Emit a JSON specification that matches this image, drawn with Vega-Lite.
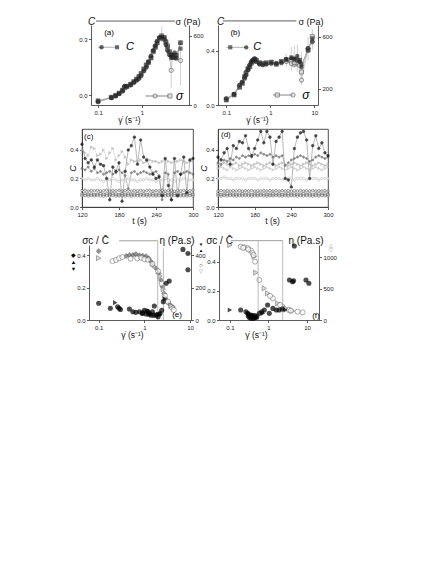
{
"$schema":"https://vega.github.io/schema/vega-lite/v6.json",
"background":"white",
"padding":{"left":67,"top":16,"right":5,"bottom":5},
"columns":2,
"spacing":{"row":24,"column":25},
"bounds":"flush",
"align":"each",
"config":{"font":"Liberation Sans","view":{"stroke":null},"scale":{"zero":false},"title":{"fontWeight":"normal","fontSize":8,"color":"#111","baseline":"bottom"},"axis":{"grid":false,"labelFontSize":6,"labelColor":"#222","labelPadding":1.5,"domainColor":"#333","domainWidth":0.8,"tickColor":"#333","tickWidth":0.8,"tickSize":2.5,"titleFontSize":8.5,"titleFontWeight":"normal","titleColor":"#111","labelFlush":false,"labelOverlap":false}},
"datasets":{
"a":[
{"g":0.1,"c1":-0.035,"c2":-0.03,"s1":27,"s2":35},
{"g":0.2,"c1":-0.013,"c2":-0.011,"s1":63,"s2":66},
{"g":0.25,"c1":-0.004,"c2":-0.001,"s1":78,"s2":82},
{"g":0.3,"c1":0.008,"c2":0.011,"s1":98,"s2":102},
{"g":0.36,"c1":0.022,"c2":0.028,"s1":120,"s2":128},
{"g":0.4,"c1":0.05,"c2":0.042,"s1":160,"s2":150},
{"g":0.45,"c1":0.046,"c2":0.049,"s1":156,"s2":162},
{"g":0.55,"c1":0.055,"c2":0.06,"s1":172,"s2":180},
{"g":0.65,"c1":0.068,"c2":0.073,"s1":195,"s2":202},
{"g":0.75,"c1":0.08,"c2":0.086,"s1":214,"s2":224},
{"g":0.85,"c1":0.09,"c2":0.1,"s1":230,"s2":246},
{"g":0.95,"c1":0.105,"c2":0.116,"s1":255,"s2":272},
{"g":1.1,"c1":0.13,"c2":0.14,"s1":295,"s2":312},
{"g":1.25,"c1":0.15,"c2":0.162,"s1":328,"s2":346},
{"g":1.4,"c1":0.18,"c2":0.175,"s1":375,"s2":368},
{"g":1.6,"c1":0.21,"c2":0.2,"s1":422,"s2":408},
{"g":1.8,"c1":0.24,"c2":0.235,"s1":470,"s2":462},
{"g":2.0,"c1":0.265,"c2":0.258,"s1":512,"s2":500},
{"g":2.2,"c1":0.29,"c2":0.28,"s1":552,"s2":538},
{"g":2.5,"c1":0.31,"c2":0.305,"s1":585,"s2":575},
{"g":2.8,"c1":0.315,"c2":0.31,"s1":592,"s2":600,"lo":545,"hi":680},
{"g":3.2,"c1":0.3,"c2":0.31,"s1":568,"s2":582},
{"g":3.5,"c1":0.27,"c2":0.285,"s1":525,"s2":548,"lo":470,"hi":600},
{"g":3.8,"c1":0.24,"c2":0.26,"s1":475,"s2":512},
{"g":4.2,"c1":0.215,"c2":0.232,"s1":438,"s2":462,"lo":380,"hi":520},
{"g":4.6,"c1":0.2,"c2":0.215,"s1":300,"s2":436,"lo":150,"hi":410},
{"g":5.0,"c1":0.215,"c2":0.205,"s1":430,"s2":415},
{"g":5.5,"c1":0.225,"c2":0.2,"s1":452,"s2":420},
{"g":6.0,"c1":0.2,"c2":0.215,"s1":402,"s2":430},
{"g":7.5,"c1":0.28,"c2":0.25,"s1":385,"s2":540,"lo":170,"hi":500}
],
"b":[
{"g":0.1,"c1":0.049,"c2":0.036,"s1":125,"s2":118},
{"g":0.15,"c1":0.081,"c2":0.075,"s1":160,"s2":155},
{"g":0.2,"c1":0.147,"c2":0.13,"s1":228,"s2":215},
{"g":0.23,"c1":0.17,"c2":0.16,"s1":252,"s2":244},
{"g":0.26,"c1":0.196,"c2":0.21,"s1":282,"s2":292},
{"g":0.28,"c1":0.22,"c2":0.24,"s1":305,"s2":320},
{"g":0.31,"c1":0.257,"c2":0.27,"s1":345,"s2":352},
{"g":0.34,"c1":0.294,"c2":0.28,"s1":382,"s2":370},
{"g":0.37,"c1":0.318,"c2":0.31,"s1":405,"s2":398},
{"g":0.4,"c1":0.33,"c2":0.325,"s1":420,"s2":414},
{"g":0.44,"c1":0.343,"c2":0.335,"s1":430,"s2":424},
{"g":0.48,"c1":0.318,"c2":0.33,"s1":410,"s2":420},
{"g":0.57,"c1":0.3,"c2":0.31,"s1":390,"s2":400},
{"g":0.68,"c1":0.294,"c2":0.305,"s1":385,"s2":396},
{"g":0.81,"c1":0.3,"c2":0.31,"s1":390,"s2":400},
{"g":1.05,"c1":0.306,"c2":0.315,"s1":395,"s2":405},
{"g":1.37,"c1":0.306,"c2":0.3,"s1":396,"s2":390},
{"g":1.78,"c1":0.311,"c2":0.32,"s1":400,"s2":410},
{"g":2.3,"c1":0.338,"c2":0.33,"s1":410,"s2":425,"lo":370,"hi":470},
{"g":3.0,"c1":0.343,"c2":0.35,"s1":395,"s2":415,"lo":340,"hi":520},
{"g":3.5,"c1":0.343,"c2":0.335,"s1":400,"s2":390,"lo":360,"hi":530},
{"g":4.1,"c1":0.36,"c2":0.33,"s1":420,"s2":400,"lo":330,"hi":540},
{"g":4.6,"c1":0.318,"c2":0.33,"s1":380,"s2":420},
{"g":5.1,"c1":0.28,"c2":0.3,"s1":268,"s2":330,"lo":230,"hi":485},
{"g":7.2,"c1":0.417,"c2":0.4,"s1":510,"s2":500,"lo":420,"hi":600},
{"g":9.0,"c1":0.466,"c2":0.49,"s1":560,"s2":600,"lo":500,"hi":660}
],
"c":[
{"t":120,"k":0.44,"g":0.40,"d":0.27,"o":0.20,"c":0.115,"q":0.090,"r":0.078},
{"t":125,"k":0.34,"g":0.38,"d":0.26,"o":0.19,"c":0.118,"q":0.092,"r":0.080},
{"t":130,"k":0.31,"g":0.36,"d":0.28,"o":0.20,"c":0.112,"q":0.088,"r":0.076},
{"t":135,"k":0.33,"g":0.42,"d":0.25,"o":0.19,"c":0.116,"q":0.091,"r":0.079},
{"t":140,"k":0.28,"g":0.41,"d":0.27,"o":0.19,"c":0.114,"q":0.087,"r":0.077},
{"t":145,"k":0.33,"g":0.36,"d":0.24,"o":0.20,"c":0.117,"q":0.090,"r":0.080},
{"t":150,"k":0.30,"g":0.37,"d":0.25,"o":0.19,"c":0.113,"q":0.093,"r":0.078},
{"t":155,"k":0.29,"g":0.40,"d":0.23,"o":0.18,"c":0.115,"q":0.089,"r":0.075},
{"t":160,"k":0.20,"g":0.34,"d":0.24,"o":0.19,"c":0.118,"q":0.091,"r":0.079},
{"t":165,"k":0.05,"g":0.38,"d":0.25,"o":0.19,"c":0.112,"q":0.088,"r":0.077},
{"t":170,"k":0.28,"g":0.41,"d":0.23,"o":0.20,"c":0.116,"q":0.092,"r":0.080},
{"t":175,"k":0.25,"g":0.33,"d":0.24,"o":0.19,"c":0.114,"q":0.090,"r":0.076},
{"t":180,"k":0.31,"g":0.36,"d":0.26,"o":0.18,"c":0.117,"q":0.087,"r":0.078},
{"t":185,"k":0.04,"g":0.39,"d":0.24,"o":0.19,"c":0.113,"q":0.091,"r":0.079},
{"t":190,"k":0.25,"g":0.35,"d":0.22,"o":0.19,"c":0.115,"q":0.089,"r":0.077},
{"t":195,"k":0.40,"g":0.30,"d":0.13,"o":0.20,"c":0.118,"q":0.092,"r":0.080},
{"t":200,"k":0.43,"g":0.33,"d":0.24,"o":0.19,"c":0.112,"q":0.088,"r":0.076},
{"t":205,"k":0.49,"g":0.32,"d":0.25,"o":0.19,"c":0.116,"q":0.090,"r":0.078},
{"t":210,"k":0.30,"g":0.32,"d":0.23,"o":0.18,"c":0.114,"q":0.093,"r":0.079},
{"t":215,"k":0.47,"g":0.33,"d":0.24,"o":0.19,"c":0.117,"q":0.089,"r":0.077},
{"t":220,"k":0.35,"g":0.31,"d":0.25,"o":0.19,"c":0.113,"q":0.091,"r":0.080},
{"t":225,"k":0.33,"g":0.32,"d":0.24,"o":0.20,"c":0.115,"q":0.087,"r":0.076},
{"t":230,"k":0.28,"g":0.33,"d":0.23,"o":0.19,"c":0.118,"q":0.090,"r":0.078},
{"t":235,"k":0.23,"g":0.32,"d":0.24,"o":0.19,"c":0.112,"q":0.092,"r":0.079},
{"t":240,"k":0.20,"g":0.32,"d":0.25,"o":0.18,"c":0.116,"q":0.088,"r":0.077},
{"t":245,"k":0.21,"g":0.31,"d":0.22,"o":0.19,"c":0.114,"q":0.091,"r":0.080},
{"t":250,"k":0.08,"g":0.32,"d":0.05,"o":0.19,"c":0.117,"q":0.089,"r":0.076},
{"t":255,"k":0.34,"g":0.33,"d":0.24,"o":0.20,"c":0.113,"q":0.092,"r":0.078},
{"t":260,"k":0.15,"g":0.32,"d":0.23,"o":0.19,"c":0.115,"q":0.088,"r":0.079},
{"t":265,"k":0.05,"g":0.31,"d":0.05,"o":0.19,"c":0.118,"q":0.090,"r":0.077},
{"t":270,"k":0.34,"g":0.32,"d":0.24,"o":0.18,"c":0.112,"q":0.093,"r":0.080},
{"t":275,"k":0.08,"g":0.32,"d":0.25,"o":0.19,"c":0.116,"q":0.089,"r":0.076},
{"t":280,"k":0.23,"g":0.33,"d":0.23,"o":0.19,"c":0.114,"q":0.091,"r":0.078},
{"t":285,"k":0.35,"g":0.32,"d":0.24,"o":0.20,"c":0.117,"q":0.087,"r":0.079},
{"t":290,"k":0.10,"g":0.31,"d":0.25,"o":0.19,"c":0.113,"q":0.090,"r":0.077},
{"t":295,"k":0.33,"g":0.32,"d":0.24,"o":0.19,"c":0.115,"q":0.092,"r":0.080},
{"t":300,"k":0.34,"g":0.32,"d":0.23,"o":0.19,"c":0.118,"q":0.088,"r":0.076}
],
"d":[
{"t":120,"k":0.35,"g":0.30,"h":0.27,"d":0.31,"o":0.20,"c":0.112,"q":0.091,"r":0.078},
{"t":125,"k":0.33,"g":0.29,"h":0.28,"d":0.30,"o":0.20,"c":0.115,"q":0.088,"r":0.076},
{"t":130,"k":0.38,"g":0.31,"h":0.27,"d":0.33,"o":0.21,"c":0.113,"q":0.090,"r":0.079},
{"t":135,"k":0.41,"g":0.30,"h":0.26,"d":0.32,"o":0.20,"c":0.116,"q":0.092,"r":0.077},
{"t":140,"k":0.30,"g":0.29,"h":0.28,"d":0.34,"o":0.20,"c":0.112,"q":0.089,"r":0.080},
{"t":145,"k":0.43,"g":0.30,"h":0.27,"d":0.33,"o":0.19,"c":0.115,"q":0.091,"r":0.078},
{"t":150,"k":0.41,"g":0.31,"h":0.26,"d":0.35,"o":0.20,"c":0.113,"q":0.088,"r":0.076},
{"t":155,"k":0.46,"g":0.29,"h":0.27,"d":0.34,"o":0.20,"c":0.116,"q":0.090,"r":0.079},
{"t":160,"k":0.45,"g":0.30,"h":0.28,"d":0.36,"o":0.20,"c":0.112,"q":0.092,"r":0.077},
{"t":165,"k":0.50,"g":0.31,"h":0.27,"d":0.35,"o":0.19,"c":0.115,"q":0.089,"r":0.080},
{"t":170,"k":0.41,"g":0.30,"h":0.26,"d":0.36,"o":0.20,"c":0.113,"q":0.091,"r":0.078},
{"t":175,"k":0.36,"g":0.29,"h":0.27,"d":0.35,"o":0.20,"c":0.116,"q":0.088,"r":0.076},
{"t":180,"k":0.41,"g":0.30,"h":0.28,"d":0.37,"o":0.20,"c":0.112,"q":0.090,"r":0.079},
{"t":185,"k":0.47,"g":0.31,"h":0.27,"d":0.36,"o":0.19,"c":0.115,"q":0.092,"r":0.077},
{"t":190,"k":0.53,"g":0.30,"h":0.26,"d":0.38,"o":0.20,"c":0.113,"q":0.089,"r":0.080},
{"t":195,"k":0.45,"g":0.29,"h":0.27,"d":0.37,"o":0.20,"c":0.116,"q":0.091,"r":0.078},
{"t":200,"k":0.53,"g":0.30,"h":0.28,"d":0.36,"o":0.20,"c":0.112,"q":0.088,"r":0.076},
{"t":205,"k":0.49,"g":0.31,"h":0.27,"d":0.37,"o":0.19,"c":0.115,"q":0.090,"r":0.079},
{"t":210,"k":0.30,"g":0.30,"h":0.26,"d":0.35,"o":0.20,"c":0.113,"q":0.092,"r":0.077},
{"t":215,"k":0.46,"g":0.29,"h":0.27,"d":0.36,"o":0.20,"c":0.116,"q":0.089,"r":0.080},
{"t":220,"k":0.49,"g":0.30,"h":0.28,"d":0.35,"o":0.20,"c":0.112,"q":0.091,"r":0.078},
{"t":225,"k":0.53,"g":0.31,"h":0.27,"d":0.36,"o":0.19,"c":0.115,"q":0.088,"r":0.076},
{"t":230,"k":0.20,"g":0.30,"h":0.26,"d":0.29,"o":0.20,"c":0.113,"q":0.090,"r":0.079},
{"t":235,"k":0.19,"g":0.29,"h":0.27,"d":0.31,"o":0.20,"c":0.116,"q":0.092,"r":0.077},
{"t":240,"k":0.14,"g":0.30,"h":0.28,"d":0.33,"o":0.20,"c":0.112,"q":0.089,"r":0.080},
{"t":245,"k":0.41,"g":0.31,"h":0.27,"d":0.34,"o":0.19,"c":0.115,"q":0.091,"r":0.078},
{"t":250,"k":0.49,"g":0.30,"h":0.26,"d":0.35,"o":0.20,"c":0.113,"q":0.088,"r":0.076},
{"t":255,"k":0.52,"g":0.29,"h":0.27,"d":0.36,"o":0.20,"c":0.116,"q":0.090,"r":0.079},
{"t":260,"k":0.53,"g":0.30,"h":0.28,"d":0.35,"o":0.20,"c":0.112,"q":0.092,"r":0.077},
{"t":265,"k":0.47,"g":0.31,"h":0.27,"d":0.34,"o":0.19,"c":0.115,"q":0.089,"r":0.080},
{"t":270,"k":0.20,"g":0.30,"h":0.26,"d":0.32,"o":0.20,"c":0.113,"q":0.091,"r":0.078},
{"t":275,"k":0.43,"g":0.29,"h":0.27,"d":0.33,"o":0.20,"c":0.116,"q":0.088,"r":0.076},
{"t":280,"k":0.50,"g":0.30,"h":0.28,"d":0.35,"o":0.20,"c":0.112,"q":0.090,"r":0.079},
{"t":285,"k":0.41,"g":0.31,"h":0.27,"d":0.36,"o":0.19,"c":0.115,"q":0.092,"r":0.077},
{"t":290,"k":0.45,"g":0.30,"h":0.26,"d":0.35,"o":0.20,"c":0.113,"q":0.089,"r":0.080},
{"t":295,"k":0.38,"g":0.29,"h":0.27,"d":0.34,"o":0.20,"c":0.116,"q":0.091,"r":0.078},
{"t":300,"k":0.36,"g":0.30,"h":0.28,"d":0.35,"o":0.20,"c":0.112,"q":0.088,"r":0.076}
],
"eL":[
{"g":0.1,"v":0.103,"m":"o"},{"g":0.47,"v":0.068,"m":"o"},{"g":0.56,"v":0.051,"m":"o"},{"g":0.65,"v":0.047,"m":"o"},{"g":0.78,"v":0.051,"m":"o"},{"g":0.92,"v":0.045,"m":"o"},{"g":1.09,"v":0.037,"m":"o"},{"g":1.2,"v":0.05,"m":"o"},{"g":1.3,"v":0.04,"m":"o"},{"g":1.4,"v":0.03,"m":"o"},{"g":1.65,"v":0.086,"m":"o"},{"g":1.8,"v":0.03,"m":"o"},{"g":2.0,"v":0.02,"m":"o"},{"g":2.1,"v":0.035,"m":"o"},{"g":3.0,"v":0.226,"m":"o"},
{"g":0.18,"v":0.072,"m":"u"},{"g":0.26,"v":0.082,"m":"u"},{"g":0.3,"v":0.065,"m":"u"},{"g":1.0,"v":0.06,"m":"u"},{"g":1.15,"v":0.055,"m":"u"},{"g":1.5,"v":0.05,"m":"u"},{"g":2.2,"v":0.04,"m":"u"},{"g":3.5,"v":0.24,"m":"u"},{"g":9.0,"v":0.31,"m":"u"},
{"g":0.28,"v":0.072,"m":"n"},{"g":0.9,"v":0.04,"m":"n"},{"g":1.25,"v":0.035,"m":"n"},{"g":1.6,"v":0.03,"m":"n"},{"g":2.4,"v":0.06,"m":"n"},{"g":2.6,"v":0.113,"m":"n"},{"g":7.0,"v":0.435,"m":"n"},{"g":9.0,"v":0.41,"m":"n"},
{"g":0.23,"v":0.107,"m":"h"},{"g":2.0,"v":0.035,"m":"h"},{"g":2.8,"v":0.13,"m":"h"}
],
"eR":[
{"g":0.1,"v":424,"m":"d"},{"g":0.4,"v":394,"m":"d"},{"g":0.47,"v":400,"m":"d"},{"g":0.56,"v":400,"m":"d"},{"g":0.65,"v":406,"m":"d"},{"g":0.78,"v":398,"m":"d"},{"g":0.92,"v":396,"m":"d"},{"g":1.09,"v":392,"m":"d"},{"g":1.24,"v":380,"m":"d"},{"g":1.4,"v":360,"m":"d"},{"g":1.52,"v":338,"m":"d"},{"g":1.8,"v":318,"m":"d"},{"g":2.05,"v":287,"m":"d"},{"g":2.3,"v":246,"m":"d"},{"g":2.5,"v":205,"m":"d"},{"g":2.7,"v":164,"m":"d"},{"g":2.9,"v":133,"m":"d"},{"g":3.5,"v":100,"m":"d"},{"g":4.2,"v":80,"m":"d"},
{"g":0.2,"v":363,"m":"n"},{"g":0.24,"v":370,"m":"n"},{"g":0.28,"v":380,"m":"n"},{"g":0.33,"v":388,"m":"n"},{"g":0.5,"v":378,"m":"n"},{"g":0.7,"v":380,"m":"n"},{"g":0.85,"v":384,"m":"n"},{"g":1.0,"v":375,"m":"n"},{"g":1.2,"v":372,"m":"n"},{"g":1.5,"v":345,"m":"n"},{"g":2.0,"v":300,"m":"n"},{"g":2.4,"v":225,"m":"n"},{"g":2.8,"v":150,"m":"n"},{"g":3.3,"v":112,"m":"n"},{"g":4.0,"v":78,"m":"n"},{"g":4.4,"v":62,"m":"n"},
{"g":0.1,"v":381,"m":"h"},{"g":2.2,"v":270,"m":"h"},{"g":2.6,"v":190,"m":"h"},{"g":3.8,"v":88,"m":"h"}
],
"fL":[
{"g":0.19,"v":0.069,"m":"n"},{"g":0.26,"v":0.057,"m":"n"},{"g":0.29,"v":0.046,"m":"n"},{"g":0.3,"v":0.025,"m":"n"},{"g":0.35,"v":0.034,"m":"n"},{"g":0.36,"v":0.012,"m":"n"},{"g":0.39,"v":0.028,"m":"n"},{"g":0.41,"v":0.01,"m":"n"},{"g":0.43,"v":0.018,"m":"n"},{"g":0.58,"v":0.046,"m":"n"},{"g":0.78,"v":0.069,"m":"n"},{"g":1.05,"v":0.046,"m":"n"},{"g":1.6,"v":0.069,"m":"n"},{"g":1.9,"v":0.069,"m":"n"},{"g":3.5,"v":0.276,"m":"n"},{"g":4.2,"v":0.264,"m":"n"},{"g":4.7,"v":0.51,"m":"n"},{"g":9.4,"v":0.276,"m":"n"},
{"g":0.3,"v":0.04,"m":"u"},{"g":0.33,"v":0.015,"m":"u"},{"g":0.38,"v":0.03,"m":"u"},{"g":0.45,"v":0.03,"m":"u"},{"g":0.47,"v":0.018,"m":"u"},{"g":0.5,"v":0.023,"m":"u"},{"g":0.67,"v":0.057,"m":"u"},{"g":0.95,"v":0.103,"m":"u"},{"g":1.3,"v":0.08,"m":"u"},{"g":2.3,"v":0.076,"m":"u"},{"g":4.5,"v":0.27,"m":"u"},{"g":11.2,"v":0.253,"m":"u"},
{"g":0.1,"v":0.069,"m":"h"},{"g":0.33,"v":0.02,"m":"h"},{"g":0.4,"v":0.02,"m":"h"},{"g":0.72,"v":0.046,"m":"h"},{"g":2.8,"v":0.069,"m":"h"}
],
"fR":[
{"g":0.19,"v":1170,"m":"u"},{"g":0.235,"v":1160,"m":"u"},{"g":0.29,"v":1144,"m":"u"},{"g":0.35,"v":1107,"m":"u"},{"g":0.39,"v":1064,"m":"u"},{"g":0.58,"v":638,"m":"u"},{"g":1.3,"v":346,"m":"u"},{"g":2.3,"v":213,"m":"u"},{"g":3.4,"v":160,"m":"u"},{"g":5.7,"v":133,"m":"u"},
{"g":0.1,"v":1197,"m":"h"},{"g":0.43,"v":1011,"m":"h"},{"g":0.47,"v":755,"m":"h"},{"g":0.78,"v":505,"m":"h"},{"g":0.95,"v":426,"m":"h"},{"g":1.73,"v":266,"m":"h"},{"g":2.8,"v":186,"m":"h"},{"g":4.2,"v":144,"m":"h"},
{"g":0.22,"v":1150,"m":"n"},{"g":0.3,"v":1125,"m":"n"},{"g":0.41,"v":1035,"m":"n"},{"g":0.45,"v":931,"m":"n"},{"g":1.1,"v":385,"m":"n"},{"g":2.0,"v":240,"m":"n"},{"g":3.8,"v":150,"m":"n"},{"g":7.7,"v":122,"m":"n"}
]
},
"concat":[
{
"width":107,"height":80,
"layer":[
{"layer":[
{"data":{"name":"a"},"encoding":{"x":{"field":"g","type":"quantitative","scale":{"type":"log","domain":[0.069,11.7],"range":[9,107],"nice":false},"axis":{"values":[0.1,1],"format":"~g","title":"γ̇ (s⁻¹)","titleX":47,"titleY":14,"titleBaseline":"middle","titleAlign":"center"}}},"layer":[
{"transform":[{"filter":"isValid(datum.lo)"}],"mark":{"type":"rule","color":"#bbb","strokeWidth":0.7},"encoding":{"y":{"field":"lo","type":"quantitative","scale":{"domain":[0,693],"nice":false}},"y2":{"field":"hi"}}},
{"mark":{"type":"line","color":"#bbb","strokeWidth":0.7},"encoding":{"y":{"field":"s1","type":"quantitative","scale":{"domain":[0,693],"nice":false}}}},
{"mark":{"type":"line","color":"#bbb","strokeWidth":0.7},"encoding":{"y":{"field":"s2","type":"quantitative","scale":{"domain":[0,693],"nice":false}}}},
{"mark":{"type":"point","shape":"square","filled":true,"fill":"#ddd","stroke":"#444","strokeWidth":0.8,"size":17},"encoding":{"y":{"field":"s2","type":"quantitative","scale":{"domain":[0,693],"nice":false}}}},
{"mark":{"type":"point","shape":"circle","filled":true,"fill":"#ddd","stroke":"#444","strokeWidth":0.8,"size":18},"encoding":{"y":{"field":"s1","type":"quantitative","scale":{"domain":[0,693],"nice":false},"axis":{"orient":"right","values":[0,200,400,600],"title":"σ (Pa)","titleAngle":0,"titleX":-14,"titleY":-4,"titleAlign":"left","titleBaseline":"middle","titleFontSize":9}}}}
]},
{"data":{"values":[{}]},"mark":{"type":"rule","color":"#666","strokeWidth":0.8},"encoding":{"x":{"datum":1.2},"x2":{"datum":4.3},"y":{"datum":78}}},
{"data":{"values":[{}]},"mark":{"type":"point","shape":"circle","filled":true,"fill":"#ddd","stroke":"#444","strokeWidth":0.8,"size":18},"encoding":{"x":{"datum":1.98},"y":{"datum":78}}},
{"data":{"values":[{}]},"mark":{"type":"point","shape":"square","filled":true,"fill":"#ddd","stroke":"#444","strokeWidth":0.8,"size":17},"encoding":{"x":{"datum":4.3},"y":{"datum":78}}},
{"data":{"values":[{}]},"mark":{"type":"text","text":"σ","align":"left","baseline":"middle","fontSize":12,"fontStyle":"italic"},"encoding":{"x":{"datum":5.9},"y":{"datum":78}}}
]},
{"layer":[
{"data":{"name":"a"},"encoding":{"x":{"field":"g","type":"quantitative","scale":{"type":"log","domain":[0.069,11.7],"range":[9,107],"nice":false}}},"layer":[
{"mark":{"type":"line","color":"#999","strokeWidth":0.7},"encoding":{"y":{"field":"c1","type":"quantitative","scale":{"domain":[-0.052,0.376],"nice":false}}}},
{"mark":{"type":"line","color":"#999","strokeWidth":0.7},"encoding":{"y":{"field":"c2","type":"quantitative","scale":{"domain":[-0.052,0.376],"nice":false}}}},
{"mark":{"type":"point","shape":"square","filled":true,"color":"#333","size":17},"encoding":{"y":{"field":"c2","type":"quantitative","scale":{"domain":[-0.052,0.376],"nice":false}}}},
{"mark":{"type":"point","shape":"circle","filled":true,"color":"#222","size":19},"encoding":{"y":{"field":"c1","type":"quantitative","scale":{"domain":[-0.052,0.376],"nice":false},"axis":{"orient":"left","offset":-9,"values":[0,0.1,0.2,0.3],"format":".1f","title":"C","titleAngle":0,"titleX":0,"titleY":-4,"titleAlign":"center","titleBaseline":"middle","titleFontSize":10,"titleFontStyle":"italic"}}}}
]},
{"data":{"values":[{}]},"mark":{"type":"rule","color":"#333","strokeWidth":0.8},"encoding":{"x":{"datum":0.09},"x2":{"datum":5.6},"y":{"datum":0.397}}},
{"data":{"values":[{}]},"mark":{"type":"rule","color":"#999","strokeWidth":0.8},"encoding":{"x":{"datum":0.1},"x2":{"datum":0.3},"y":{"datum":0.257}}},
{"data":{"values":[{}]},"mark":{"type":"point","shape":"circle","filled":true,"color":"#222","size":19},"encoding":{"x":{"datum":0.12},"y":{"datum":0.257}}},
{"data":{"values":[{}]},"mark":{"type":"point","shape":"square","filled":true,"color":"#333","size":17},"encoding":{"x":{"datum":0.27},"y":{"datum":0.257}}},
{"data":{"values":[{}]},"mark":{"type":"text","text":"C","align":"left","baseline":"middle","fontSize":11,"fontStyle":"italic"},"encoding":{"x":{"datum":0.43},"y":{"datum":0.257}}},
{"data":{"values":[{}]},"mark":{"type":"text","text":"(a)","align":"center","baseline":"middle","fontSize":8},"encoding":{"x":{"datum":0.178},"y":{"datum":0.333}}}
]}
],
"resolve":{"scale":{"y":"independent"}}
},
{
"width":100,"height":80,
"layer":[
{"layer":[
{"data":{"name":"b"},"encoding":{"x":{"field":"g","type":"quantitative","scale":{"type":"log","domain":[0.0648,12.1],"nice":false},"axis":{"values":[0.1,1,10],"format":"~g","title":"γ̇ (s⁻¹)","titleX":39,"titleY":14,"titleBaseline":"middle","titleAlign":"center"}}},"layer":[
{"transform":[{"filter":"isValid(datum.lo)"}],"mark":{"type":"rule","color":"#bbb","strokeWidth":0.7},"encoding":{"y":{"field":"lo","type":"quantitative","scale":{"domain":[77.5,689.5],"nice":false}},"y2":{"field":"hi"}}},
{"mark":{"type":"line","color":"#bbb","strokeWidth":0.7},"encoding":{"y":{"field":"s1","type":"quantitative","scale":{"domain":[77.5,689.5],"nice":false}}}},
{"mark":{"type":"line","color":"#bbb","strokeWidth":0.7},"encoding":{"y":{"field":"s2","type":"quantitative","scale":{"domain":[77.5,689.5],"nice":false}}}},
{"mark":{"type":"point","shape":"square","filled":true,"fill":"#ddd","stroke":"#444","strokeWidth":0.8,"size":17},"encoding":{"y":{"field":"s2","type":"quantitative","scale":{"domain":[77.5,689.5],"nice":false}}}},
{"mark":{"type":"point","shape":"circle","filled":true,"fill":"#ddd","stroke":"#444","strokeWidth":0.8,"size":18},"encoding":{"y":{"field":"s1","type":"quantitative","scale":{"domain":[77.5,689.5],"nice":false},"axis":{"orient":"right","values":[200,400,600],"title":"σ (Pa)","titleAngle":0,"titleX":-20,"titleY":-4,"titleAlign":"left","titleBaseline":"middle","titleFontSize":9}}}}
]},
{"data":{"values":[{}]},"mark":{"type":"rule","color":"#666","strokeWidth":0.8},"encoding":{"x":{"datum":1.15},"x2":{"datum":3.28},"y":{"datum":154}}},
{"data":{"values":[{}]},"mark":{"type":"point","shape":"square","filled":true,"fill":"#ddd","stroke":"#444","strokeWidth":0.8,"size":17},"encoding":{"x":{"datum":1.44},"y":{"datum":154}}},
{"data":{"values":[{}]},"mark":{"type":"point","shape":"circle","filled":true,"fill":"#ddd","stroke":"#444","strokeWidth":0.8,"size":18},"encoding":{"x":{"datum":3.28},"y":{"datum":154}}},
{"data":{"values":[{}]},"mark":{"type":"text","text":"σ","align":"left","baseline":"middle","fontSize":12,"fontStyle":"italic"},"encoding":{"x":{"datum":5.3},"y":{"datum":154}}}
]},
{"layer":[
{"data":{"name":"b"},"encoding":{"x":{"field":"g","type":"quantitative","scale":{"type":"log","domain":[0.0648,12.1],"nice":false}}},"layer":[
{"mark":{"type":"line","color":"#999","strokeWidth":0.7},"encoding":{"y":{"field":"c1","type":"quantitative","scale":{"domain":[0,0.588],"nice":false}}}},
{"mark":{"type":"line","color":"#999","strokeWidth":0.7},"encoding":{"y":{"field":"c2","type":"quantitative","scale":{"domain":[0,0.588],"nice":false}}}},
{"mark":{"type":"point","shape":"square","filled":true,"color":"#333","size":17},"encoding":{"y":{"field":"c2","type":"quantitative","scale":{"domain":[0,0.588],"nice":false}}}},
{"mark":{"type":"point","shape":"circle","filled":true,"color":"#222","size":19},"encoding":{"y":{"field":"c1","type":"quantitative","scale":{"domain":[0,0.588],"nice":false},"axis":{"orient":"left","values":[0,0.2,0.4],"format":".1f","title":"C","titleAngle":0,"titleX":2,"titleY":-4,"titleAlign":"center","titleBaseline":"middle","titleFontSize":10,"titleFontStyle":"italic"}}}}
]},
{"data":{"values":[{}]},"mark":{"type":"rule","color":"#333","strokeWidth":0.8},"encoding":{"x":{"datum":0.084},"x2":{"datum":3.9},"y":{"datum":0.618}}},
{"data":{"values":[{}]},"mark":{"type":"rule","color":"#999","strokeWidth":0.8},"encoding":{"x":{"datum":0.1},"x2":{"datum":0.3},"y":{"datum":0.424}}},
{"data":{"values":[{}]},"mark":{"type":"point","shape":"square","filled":true,"color":"#333","size":17},"encoding":{"x":{"datum":0.123},"y":{"datum":0.424}}},
{"data":{"values":[{}]},"mark":{"type":"point","shape":"circle","filled":true,"color":"#222","size":19},"encoding":{"x":{"datum":0.284},"y":{"datum":0.424}}},
{"data":{"values":[{}]},"mark":{"type":"text","text":"C","align":"left","baseline":"middle","fontSize":11,"fontStyle":"italic"},"encoding":{"x":{"datum":0.41},"y":{"datum":0.424}}},
{"data":{"values":[{}]},"mark":{"type":"text","text":"(b)","align":"center","baseline":"middle","fontSize":8},"encoding":{"x":{"datum":0.16},"y":{"datum":0.527}}}
]}
],
"resolve":{"scale":{"y":"independent"}}
},
{
"width":111,"height":78,
"title":{"text":"(c)","anchor":"start","frame":"group","offset":-12,"dx":2,"fontSize":8,"fontWeight":"normal"},
"view":{"stroke":"#222","strokeWidth":0.8},
"data":{"name":"c"},
"transform":[{"fold":["o","c","q","r","g","d","k"],"as":["s","v"]}],
"encoding":{
"x":{"field":"t","type":"quantitative","scale":{"domain":[120,300],"nice":false},"axis":{"values":[120,180,240,300],"labelOverlap":false,"title":"t (s)","titleX":57,"titleY":13,"titleBaseline":"middle","titleAlign":"center"}},
"y":{"field":"v","type":"quantitative","scale":{"domain":[0,0.547],"nice":false},"axis":{"values":[0,0.2,0.4],"format":".1f","title":"C","titleX":-10,"titleY":39,"titleAlign":"center","titleBaseline":"middle","titleFontStyle":"italic","titleFontSize":9}}
},
"layer":[
{"mark":{"type":"line","strokeWidth":0.6},"encoding":{"color":{"field":"s","type":"nominal","scale":{"domain":["o","c","q","r","h","g","d","k"],"range":["#ddd","#bbb","#bbb","#bbb","#ddd","#ccc","#999","#888"]},"legend":null}}},
{"mark":{"type":"point","filled":true,"strokeWidth":0.6},"encoding":{
"shape":{"field":"s","type":"nominal","scale":{"domain":["o","c","q","r","h","g","d","k"],"range":["circle","circle","square","circle","triangle-right","triangle-right","diamond","circle"]},"legend":null},
"fill":{"field":"s","type":"nominal","scale":{"domain":["o","c","q","r","h","g","d","k"],"range":["#fff","#fff","#fff","#fff","#ccc","#bbb","#666","#000"]},"legend":null},
"stroke":{"field":"s","type":"nominal","scale":{"domain":["o","c","q","r","h","g","d","k"],"range":["#aaa","#222","#222","#333","#bbb","#aaa","#555","#000"]},"legend":null},
"size":{"field":"s","type":"nominal","scale":{"domain":["o","c","q","r","h","g","d","k"],"range":[6,7,7,5,10,10,10,13]},"legend":null}}}
]
},
{
"width":110,"height":78,
"title":{"text":"(d)","anchor":"start","frame":"group","offset":-10,"dx":3,"fontSize":8,"fontWeight":"normal"},
"view":{"stroke":"#222","strokeWidth":0.8},
"data":{"name":"d"},
"transform":[{"fold":["o","c","q","r","h","g","d","k"],"as":["s","v"]}],
"encoding":{
"x":{"field":"t","type":"quantitative","scale":{"domain":[120,300],"nice":false},"axis":{"values":[120,180,240,300],"labelOverlap":false,"title":"t (s)","titleX":54,"titleY":13,"titleBaseline":"middle","titleAlign":"center"}},
"y":{"field":"v","type":"quantitative","scale":{"domain":[0,0.547],"nice":false},"axis":{"values":[0,0.2,0.4],"format":".1f","title":"C","titleX":-15,"titleY":39,"titleAlign":"center","titleBaseline":"middle","titleFontStyle":"italic","titleFontSize":9}}
},
"layer":[
{"mark":{"type":"line","strokeWidth":0.6},"encoding":{"color":{"field":"s","type":"nominal","scale":{"domain":["o","c","q","r","h","g","d","k"],"range":["#ddd","#bbb","#bbb","#bbb","#ddd","#ccc","#999","#888"]},"legend":null}}},
{"mark":{"type":"point","filled":true,"strokeWidth":0.6},"encoding":{
"shape":{"field":"s","type":"nominal","scale":{"domain":["o","c","q","r","h","g","d","k"],"range":["circle","circle","square","circle","triangle-right","triangle-right","diamond","circle"]},"legend":null},
"fill":{"field":"s","type":"nominal","scale":{"domain":["o","c","q","r","h","g","d","k"],"range":["#fff","#fff","#fff","#fff","#ccc","#bbb","#666","#000"]},"legend":null},
"stroke":{"field":"s","type":"nominal","scale":{"domain":["o","c","q","r","h","g","d","k"],"range":["#aaa","#222","#222","#333","#bbb","#aaa","#555","#000"]},"legend":null},
"size":{"field":"s","type":"nominal","scale":{"domain":["o","c","q","r","h","g","d","k"],"range":[6,7,7,5,10,10,10,13]},"legend":null}}}
]
},
{
"width":109,"height":89,
"layer":[
{"layer":[
{"data":{"name":"eR"},"mark":{"type":"point","filled":true,"stroke":"#555","strokeWidth":0.7,"size":26},"encoding":{
"x":{"field":"g","type":"quantitative","scale":{"type":"log","domain":[0.0613,10.5],"range":[7,109],"nice":false},"axis":{"values":[0.1,1,10],"format":"~g","title":"γ̇ (s⁻¹)","titleX":50,"titleY":14,"titleBaseline":"middle","titleAlign":"center"}},
"y":{"field":"v","type":"quantitative","scale":{"domain":[0,462],"range":[89,14],"nice":false},"axis":{"orient":"right","values":[0,200,400],"title":"η (Pa.s)","titleAngle":0,"titleX":-32,"titleY":9.7,"titleAlign":"left","titleBaseline":"middle","titleFontSize":10}},
"shape":{"field":"m","type":"nominal","scale":{"domain":["o","u","n","h","d"],"range":["circle","triangle-up","triangle-down","M-0.8,-1L0.8,-1L-0.8,1L0.8,1Z","diamond"]},"legend":null},
"fill":{"field":"m","type":"nominal","scale":{"domain":["o","u","n","h","d"],"range":["#bbb","#fff","#fff","#ccc","#bbb"]},"legend":null}}},
{"data":{"values":[{}]},"mark":{"type":"text","text":["◇","▽"],"fontSize":5,"lineHeight":6,"color":"#777","baseline":"middle","align":"center"},"encoding":{"x":{"datum":17.4},"y":{"datum":336}}}
]},
{"layer":[
{"data":{"values":[{}]},"mark":{"type":"rule","color":"#888","strokeWidth":0.8},"encoding":{"x":{"datum":0.28},"x2":{"datum":1.96},"y":{"datum":0.488}}},
{"data":{"values":[{}]},"mark":{"type":"rule","color":"#aaa","strokeWidth":0.8},"encoding":{"x":{"datum":1.96},"y":{"datum":0},"y2":{"datum":0.488}}},
{"data":{"values":[{}]},"mark":{"type":"rule","color":"#aaa","strokeWidth":0.8},"encoding":{"x":{"datum":2.61},"y":{"datum":0},"y2":{"datum":0.44}}},
{"data":{"name":"eL"},"mark":{"type":"point","filled":true,"color":"#000","size":26},"encoding":{
"x":{"field":"g","type":"quantitative","scale":{"type":"log","domain":[0.0613,10.5],"range":[7,109],"nice":false}},
"y":{"field":"v","type":"quantitative","scale":{"domain":[0,0.462],"range":[89,14],"nice":false},"axis":{"orient":"left","offset":-7,"values":[0,0.2,0.4],"format":".1f","title":"σc / C̄","titleAngle":0,"titleX":6,"titleY":9.7,"titleAlign":"center","titleBaseline":"middle","titleFontSize":10}},
"shape":{"field":"m","type":"nominal","scale":{"domain":["o","u","n","h","d"],"range":["circle","triangle-up","triangle-down","M-0.8,-1L0.8,-1L-0.8,1L0.8,1Z","diamond"]},"legend":null}}},
{"data":{"values":[{}]},"mark":{"type":"text","text":"(e)","align":"center","baseline":"middle","fontSize":8},"encoding":{"x":{"datum":5.2},"y":{"datum":0.031}}},
{"data":{"values":[{}]},"mark":{"type":"text","text":["◆","▲","▼"],"fontSize":5.5,"lineHeight":7,"color":"#000","baseline":"middle","align":"center"},"encoding":{"x":{"datum":0.028},"y":{"datum":0.4}}}
]}
],
"resolve":{"scale":{"y":"independent"}}
},
{
"width":101,"height":89,
"layer":[
{"layer":[
{"data":{"name":"fR"},"mark":{"type":"point","filled":true,"stroke":"#555","strokeWidth":0.7,"size":26},"encoding":{
"x":{"field":"g","type":"quantitative","scale":{"type":"log","domain":[0.052,20.5],"range":[1,101],"nice":false},"axis":{"values":[0.1,1,10],"format":"~g","title":"γ̇ (s⁻¹)","titleX":38,"titleY":14,"titleBaseline":"middle","titleAlign":"center"}},
"y":{"field":"v","type":"quantitative","scale":{"domain":[0,1196],"range":[89,14],"nice":false},"axis":{"orient":"right","values":[0,500,1000],"format":"d","title":"η (Pa.s)","titleAngle":0,"titleX":-31,"titleY":9.7,"titleAlign":"left","titleBaseline":"middle","titleFontSize":10}},
"shape":{"field":"m","type":"nominal","scale":{"domain":["o","u","n","h","d"],"range":["circle","triangle-up","triangle-down","M-0.8,-1L0.8,-1L-0.8,1L0.8,1Z","diamond"]},"legend":null},
"fill":{"field":"m","type":"nominal","scale":{"domain":["o","u","n","h","d"],"range":["#bbb","#fff","#fff","#ccc","#bbb"]},"legend":null}}},
{"data":{"values":[{}]},"mark":{"type":"text","text":["△","▽"],"fontSize":5,"lineHeight":5.5,"color":"#777","baseline":"middle","align":"center"},"encoding":{"x":{"datum":41},"y":{"datum":1200}}}
]},
{"layer":[
{"data":{"values":[{}]},"mark":{"type":"rule","color":"#888","strokeWidth":0.8},"encoding":{"x":{"datum":0.105},"x2":{"datum":2.34},"y":{"datum":0.547}}},
{"data":{"values":[{}]},"mark":{"type":"rule","color":"#aaa","strokeWidth":0.8},"encoding":{"x":{"datum":0.54},"y":{"datum":0},"y2":{"datum":0.547}}},
{"data":{"values":[{}]},"mark":{"type":"rule","color":"#aaa","strokeWidth":0.8},"encoding":{"x":{"datum":2.34},"y":{"datum":0},"y2":{"datum":0.547}}},
{"data":{"name":"fL"},"mark":{"type":"point","filled":true,"color":"#000","size":26},"encoding":{
"x":{"field":"g","type":"quantitative","scale":{"type":"log","domain":[0.052,20.5],"range":[1,101],"nice":false}},
"y":{"field":"v","type":"quantitative","scale":{"domain":[0,0.517],"range":[89,14],"nice":false},"axis":{"orient":"left","offset":-1,"values":[0,0.2,0.4],"format":".1f","title":"σc / C̄","titleAngle":0,"titleX":0,"titleY":9.7,"titleAlign":"center","titleBaseline":"middle","titleFontSize":10}},
"shape":{"field":"m","type":"nominal","scale":{"domain":["o","u","n","h","d"],"range":["circle","triangle-up","triangle-down","M-0.8,-1L0.8,-1L-0.8,1L0.8,1Z","diamond"]},"legend":null}}},
{"data":{"values":[{}]},"mark":{"type":"text","text":"(f)","align":"center","baseline":"middle","fontSize":8},"encoding":{"x":{"datum":17.1},"y":{"datum":0.028}}},
{"data":{"values":[{}]},"mark":{"type":"text","text":["▼","▲"],"fontSize":4.5,"lineHeight":5.5,"color":"#000","baseline":"middle","align":"center"},"encoding":{"x":{"datum":0.0177},"y":{"datum":0.5136}}}
]}
],
"resolve":{"scale":{"y":"independent"}}
}
]
}
